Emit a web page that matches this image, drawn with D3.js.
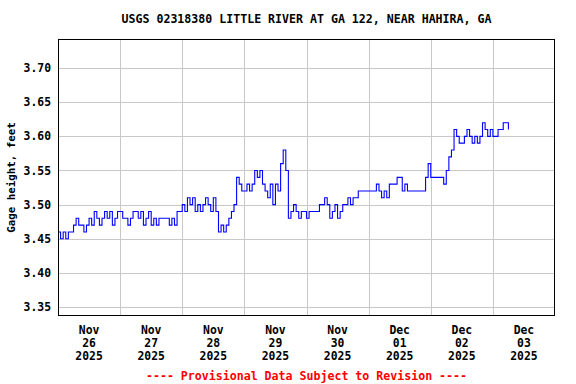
<!DOCTYPE html>
<html><head><meta charset="utf-8">
<script src="https://cdn.jsdelivr.net/npm/d3@7"></script>
<style>body{margin:0;background:#fff}svg{display:block}text{font-family:"DejaVu Sans Mono",monospace;font-weight:bold}</style>
</head><body><svg id="c" width="576" height="384"></svg>
<script>
const title = "USGS 02318380 LITTLE RIVER AT GA 122, NEAR HAHIRA, GA";
const yLabel = "Gage height, feet";
const footer = "---- Provisional Data Subject to Revision ----";
const seriesStart = "2025-11-25T12:00:00";
// hourly gage height readings (ft)
const gageValues = [
3.46,3.45,3.46,3.45,3.46,3.46,3.47,3.48,3.47,3.47,3.46,3.47,3.48,3.47,3.49,3.48,3.47,3.48,3.49,3.48,
3.49,3.47,3.48,3.49,3.49,3.48,3.48,3.47,3.48,3.49,3.49,3.48,3.49,3.47,3.48,3.49,3.47,3.48,3.47,3.48,
3.48,3.48,3.48,3.47,3.48,3.47,3.49,3.49,3.50,3.49,3.51,3.50,3.51,3.49,3.50,3.49,3.50,3.51,3.50,3.49,
3.51,3.49,3.46,3.47,3.46,3.47,3.48,3.49,3.50,3.54,3.53,3.52,3.52,3.53,3.52,3.53,3.55,3.54,3.55,3.53,
3.52,3.51,3.53,3.50,3.53,3.52,3.56,3.58,3.55,3.48,3.49,3.50,3.49,3.48,3.49,3.49,3.48,3.49,3.49,3.49,
3.49,3.50,3.50,3.51,3.50,3.48,3.49,3.50,3.48,3.49,3.50,3.50,3.51,3.50,3.51,3.51,3.52,3.52,3.52,3.52,
3.52,3.52,3.52,3.53,3.52,3.51,3.52,3.51,3.53,3.53,3.53,3.54,3.54,3.52,3.53,3.52,3.52,3.52,3.52,3.52,
3.52,3.52,3.54,3.56,3.54,3.54,3.54,3.54,3.54,3.53,3.55,3.57,3.58,3.61,3.60,3.59,3.59,3.60,3.61,3.60,
3.59,3.60,3.59,3.60,3.62,3.61,3.60,3.61,3.60,3.60,3.61,3.61,3.62,3.62,3.61
];
const yTicks = [3.35,3.40,3.45,3.50,3.55,3.60,3.65,3.70];
const xTickDates = ["2025-11-26","2025-11-27","2025-11-28","2025-11-29","2025-11-30","2025-12-01","2025-12-02","2025-12-03"];
const xTickLabels = [["Nov","26","2025"],["Nov","27","2025"],["Nov","28","2025"],["Nov","29","2025"],["Nov","30","2025"],["Dec","01","2025"],["Dec","02","2025"],["Dec","03","2025"]];
const xDomain = ["2025-11-25T12:00:00","2025-12-03T12:00:00"];
const yDomain = [3.337, 3.7425];

const t0 = new Date(seriesStart);
const data = gageValues.map((v,i)=>({t:d3.timeHour.offset(t0,i), v}));

const svg = d3.select("#c");
const m = {l:58, r:555, t:39, b:316};
const x = d3.scaleTime().domain(xDomain.map(d=>new Date(d))).range([m.l, m.r]);
const y = d3.scaleLinear().domain(yDomain).range([m.b, m.t]);

// grid
const g = svg.append("g");
g.selectAll("line.h").data(yTicks).join("line")
  .attr("x1",m.l).attr("x2",m.r).attr("y1",d=>Math.round(y(d))+0.5).attr("y2",d=>Math.round(y(d))+0.5)
  .attr("stroke","#c8c8c8").attr("stroke-width",1);
const noon = xTickDates.slice(0,-1).map(d=>d3.timeHour.offset(new Date(d+"T00:00:00"),12));
g.selectAll("line.v").data(noon).join("line")
  .attr("y1",m.t).attr("y2",m.b).attr("x1",d=>Math.round(x(d))+0.5).attr("x2",d=>Math.round(x(d))+0.5)
  .attr("stroke","#c8c8c8").attr("stroke-width",1);

// line
const line = d3.line().x(d=>x(d.t)).y(d=>y(d.v)).curve(d3.curveStepAfter);
svg.append("path").datum(data).attr("d",line).attr("fill","none").attr("stroke","#0000ff").attr("stroke-width",1.1);

// frame
svg.append("rect").attr("x",m.l+0.5).attr("y",m.t+0.5).attr("width",m.r-m.l-1).attr("height",m.b-m.t-1)
  .attr("fill","none").attr("stroke","#000").attr("stroke-width",1);

// y axis labels
svg.selectAll("text.yt").data(yTicks).join("text")
  .attr("x",51).attr("y",d=>y(d)).attr("dy","0.36em").attr("text-anchor","end")
  .attr("font-size","11.4px").text(d=>d3.format(".2f")(d));
svg.append("text").attr("transform",`translate(15,${(m.t+m.b)/2}) rotate(-90)`)
  .attr("text-anchor","middle").attr("font-size","10.8px").text(yLabel);

// x axis labels
const xl = svg.selectAll("g.xt").data(xTickDates).join("g")
  .attr("transform",d=>`translate(${x(new Date(d+"T00:00:00"))},0)`);
xl.each(function(d,i){
  const s = d3.select(this);
  xTickLabels[i].forEach((txt,j)=>{
    s.append("text").attr("x",0).attr("y",334+j*13).attr("text-anchor","middle")
      .attr("font-size","11.4px").text(txt);
  });
});

svg.append("text").attr("x",(m.l+m.r)/2).attr("y",23).attr("text-anchor","middle")
  .attr("font-size","11.6px").text(title);
svg.append("text").attr("x",(m.l+m.r)/2).attr("y",380).attr("text-anchor","middle")
  .attr("font-size","11.6px").attr("fill","#ff0000").text(footer);
</script></body></html>
